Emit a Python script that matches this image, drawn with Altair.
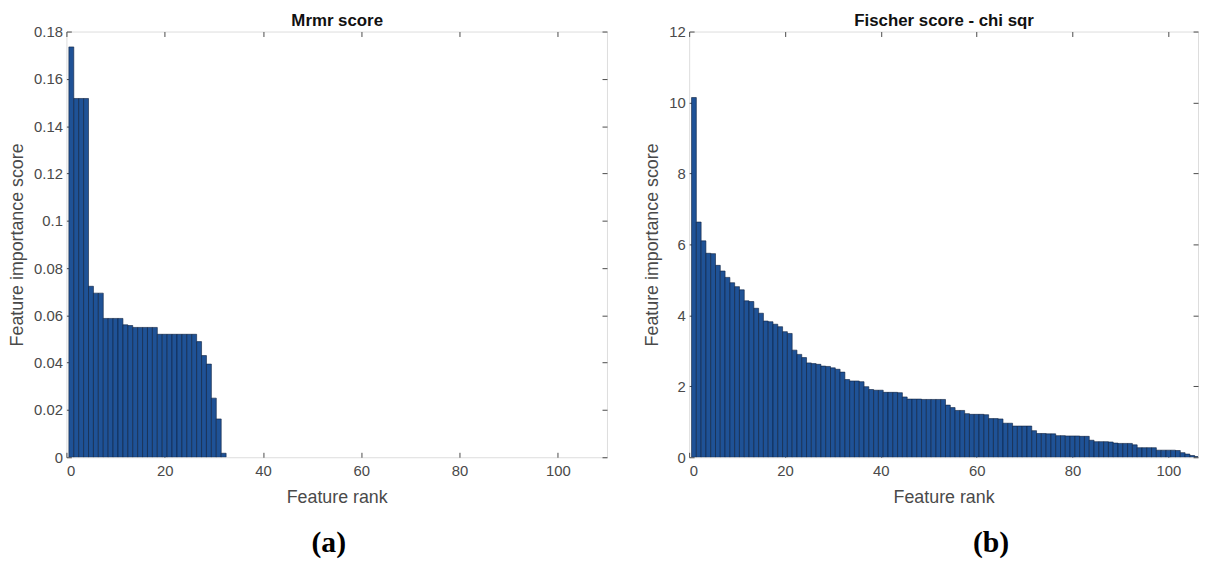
import altair as alt
import pandas as pd

# ---------------- data ----------------
rank_ticks = [0, 20, 40, 60, 80, 100]

mrmr_title = "Mrmr score"
mrmr_scores = [0.1735, 0.1517, 0.1517, 0.1517, 0.0723, 0.0694, 0.0694, 0.0587,
               0.0587, 0.0587, 0.0587, 0.0560, 0.0557, 0.0549, 0.0549, 0.0549,
               0.0549, 0.0549, 0.0520, 0.0520, 0.0520, 0.0520, 0.0520, 0.0520,
               0.0520, 0.0520, 0.0489, 0.0430, 0.0394, 0.0250, 0.0162, 0.0017]
mrmr_ticks = [0, 0.02, 0.04, 0.06, 0.08, 0.1, 0.12, 0.14, 0.16, 0.18]

fischer_title = "Fischer score - chi sqr"
fischer_scores = [10.14, 6.63, 6.10, 5.75, 5.74, 5.41, 5.25, 5.07, 4.92, 4.81,
                  4.72, 4.41, 4.39, 4.20, 4.06, 3.84, 3.82, 3.75, 3.68, 3.54,
                  3.49, 3.02, 2.90, 2.81, 2.66, 2.64, 2.62, 2.57, 2.56, 2.52,
                  2.48, 2.40, 2.19, 2.15, 2.15, 2.13, 1.99, 1.91, 1.89, 1.89,
                  1.83, 1.83, 1.83, 1.82, 1.70, 1.64, 1.64, 1.64, 1.63, 1.63,
                  1.63, 1.63, 1.63, 1.47, 1.40, 1.32, 1.32, 1.23, 1.21, 1.21,
                  1.21, 1.20, 1.09, 1.09, 1.08, 0.96, 0.96, 0.88, 0.88, 0.88,
                  0.88, 0.75, 0.67, 0.67, 0.66, 0.66, 0.61, 0.61, 0.60, 0.60,
                  0.60, 0.59, 0.59, 0.48, 0.44, 0.44, 0.44, 0.43, 0.40, 0.39,
                  0.39, 0.39, 0.35, 0.27, 0.27, 0.27, 0.27, 0.20, 0.20, 0.20,
                  0.20, 0.19, 0.13, 0.09, 0.05, 0.02]
fischer_ticks = [0, 2, 4, 6, 8, 10, 12]

x_title = "Feature rank"
y_title = "Feature importance score"

# ---------------- style ----------------
FONT = "Liberation Sans"
AX_COLOR = "#4a4a4a"
BAR_FILL = "#1f5296"
BAR_EDGE = "#0b1e3d"


def panel(scores, xmax, ymax, yticks, yfmt, top_title, letter, width, height, letter_dx):
    df = pd.DataFrame({"rank": list(range(1, len(scores) + 1)), "value": scores})
    base = alt.Chart(df).transform_calculate(
        x0="datum.rank - 0.5", x1="datum.rank + 0.5"
    )
    xscale = alt.Scale(domain=[0, xmax], nice=False, zero=False)
    yscale = alt.Scale(domain=[0, ymax], nice=False)
    common = dict(offset=-5, tickSize=5, domain=False, grid=False,
                  tickColor=AX_COLOR, tickWidth=1)
    bars = base.mark_bar(fill=BAR_FILL, stroke=BAR_EDGE, strokeWidth=0.6,
                         clip=True).encode(
        x=alt.X("x0:Q", scale=xscale,
                axis=alt.Axis(orient="bottom", values=rank_ticks, title=x_title,
                              format="d", labelPadding=6, titlePadding=11,
                              labelFont=FONT, labelFontSize=15, labelColor=AX_COLOR,
                              titleFont=FONT, titleFontSize=18, titleColor=AX_COLOR,
                              titleFontWeight="normal", **common)),
        x2="x1:Q",
        y=alt.Y("value:Q", scale=yscale,
                axis=alt.Axis(orient="left", values=yticks, format=yfmt,
                              title=y_title, labelPadding=4, titlePadding=7,
                              labelFont=FONT, labelFontSize=15, labelColor=AX_COLOR,
                              titleFont=FONT, titleFontSize=18, titleColor=AX_COLOR,
                              titleFontWeight="normal", **common)),
        y2=alt.datum(0),
    )
    frame = base.mark_point(opacity=0).encode(
        x=alt.X("rank:Q", scale=xscale,
                axis=alt.Axis(orient="top", values=rank_ticks, labels=False,
                              title=top_title, titlePadding=2, titleFont=FONT,
                              titleFontSize=17, titleFontWeight="bold",
                              titleColor="#111111", **common)),
        y=alt.Y("value:Q", scale=yscale,
                axis=alt.Axis(orient="right", values=yticks, labels=False,
                              title=None, **common)),
    )
    return alt.layer(bars, frame).resolve_axis(
        x="independent", y="independent"
    ).properties(
        width=width, height=height,
        title=alt.TitleParams(letter, orient="bottom", font="Liberation Serif",
                              fontSize=30, fontWeight="bold", color="#000000",
                              offset=22, dx=letter_dx),
    )


left = panel(mrmr_scores, 110, 0.18, mrmr_ticks, ".2~f", mrmr_title, "(a)",
             546, 430, -8)
right = panel(fischer_scores, 106.2, 12, fischer_ticks, "d", fischer_title, "(b)",
              514, 430, 48)

chart = alt.hconcat(left, right, spacing=35).properties(
    padding={"left": 0, "top": 0, "right": 0, "bottom": 0}
).configure_view(stroke="#555555", strokeWidth=1).configure(
    background="white"
)

chart.save("out.html", embed_options={"renderer": "svg", "actions": False})
